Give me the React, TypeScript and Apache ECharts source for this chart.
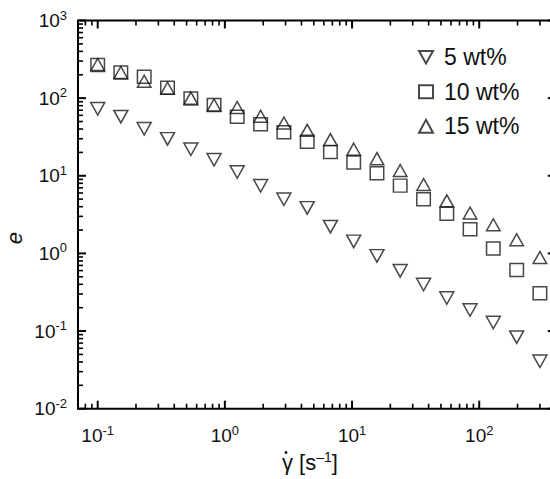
import React, { useEffect, useRef } from "react";
import * as echarts from "echarts";

// Shear rate (1/s) for every measured point
const shearRate = [0.1, 0.152, 0.232, 0.354, 0.54, 0.822, 1.25, 1.91, 2.91, 4.44, 6.76, 10.3, 15.7, 23.9, 36.5, 55.6, 84.7, 129, 197, 300];

// Values of e for each concentration
const wt5 = [72.9, 57.7, 40.4, 29.9, 22.0, 16.1, 11.2, 7.45, 4.98, 3.86, 2.21, 1.43, 0.93, 0.597, 0.398, 0.267, 0.187, 0.129, 0.0834, 0.0409];
const wt10 = [267, 214, 189, 136, 98.9, 81.6, 57.5, 46.0, 36.4, 27.5, 20.2, 14.8, 10.8, 7.47, 4.98, 3.25, 2.05, 1.16, 0.611, 0.306];
const wt15 = [271, 214, 165, 134, 100, 81.6, 75.7, 58.5, 47.9, 38.5, 29.2, 22.0, 16.6, 11.7, 7.72, 4.76, 3.32, 2.34, 1.5, 0.885];

const seriesNames = ["5 wt%", "10 wt%", "15 wt%"];

// Axis extents
const X_MIN = 0.07;
const X_MAX = 400;
const Y_MIN = 0.01;
const Y_MAX = 1000;

// Decade positions and the 2..9 sub-divisions used for tick marks
const xDecades = [0.01, 0.1, 1, 10, 100];
const yDecades = [0.01, 0.1, 1, 10, 100, 1000];
const subSteps = [2, 3, 4, 5, 6, 7, 8, 9];

const inRange = (v: number, lo: number, hi: number) => v >= lo * 0.9999 && v <= hi * 1.0001;
const majorX = xDecades.filter((v) => inRange(v, X_MIN, X_MAX));
const majorY = yDecades.filter((v) => inRange(v, Y_MIN, Y_MAX));
const minorX = xDecades
  .flatMap((d) => subSteps.map((s) => +(d * s).toPrecision(3)))
  .filter((v) => inRange(v, X_MIN, X_MAX) && v > X_MIN);
const minorY = yDecades
  .flatMap((d) => subSteps.map((s) => +(d * s).toPrecision(3)))
  .filter((v) => inRange(v, Y_MIN, Y_MAX));

const FONT = "'Liberation Sans', Arial, sans-serif";
const INK = "#111";

const pairs = (ys: number[]) => shearRate.map((x, i) => [x, ys[i]]);

const powerLabel = (v: number) => {
  const e = Math.round(Math.log10(v));
  return `{b|10}{s|${e}}`;
};

const labelRich = {
  b: { fontSize: 19, fontFamily: FONT, color: INK },
  s: { fontSize: 13, fontFamily: FONT, color: INK, padding: [0, 0, 11, 0] },
};

const hiddenAxisParts = {
  type: "log" as const,
  logBase: 10,
  axisLine: { show: false },
  axisTick: { show: false },
  minorTick: { show: false },
  splitLine: { show: false },
  minorSplitLine: { show: false },
};

type Side = "bottom" | "top" | "left" | "right";

// Tick marks pointing into the plot, placed through the axes' own scales
const tickSeries = (values: number[], side: Side, len: number, width: number) => ({
  type: "custom",
  silent: true,
  clip: false,
  z: 10,
  data: values.map((v) =>
    side === "bottom" ? [v, Y_MIN] : side === "top" ? [v, Y_MAX] : side === "left" ? [X_MIN, v] : [X_MAX, v]
  ),
  renderItem: (_params: any, api: any) => {
    const p = api.coord([api.value(0), api.value(1)]);
    const dir: Record<Side, [number, number]> = {
      bottom: [0, -len],
      top: [0, len],
      left: [len, 0],
      right: [-len, 0],
    };
    const d = dir[side];
    return {
      type: "line",
      shape: { x1: p[0], y1: p[1], x2: p[0] + d[0], y2: p[1] + d[1] },
      style: { stroke: "#000", lineWidth: width },
    };
  },
});

const markerStyle = {
  color: "transparent",
  borderColor: "#1a1a1a",
  borderWidth: 1.5,
};

export default function App() {
  const ref = useRef<HTMLDivElement>(null);

  useEffect(() => {
    if (!ref.current) return;
    const chart = echarts.init(ref.current, undefined, { renderer: "svg" });
    chart.setOption({
      animation: false,
      backgroundColor: "#fff",
      grid: {
        left: 78,
        right: 14.2,
        top: 20.5,
        bottom: 70.3,
        containLabel: false,
        show: true,
        borderColor: "#000",
        borderWidth: 2,
        backgroundColor: "transparent",
      },
      legend: {
        orient: "vertical",
        left: 418,
        top: 45.8,
        padding: 0,
        itemGap: 11.5,
        itemWidth: 14,
        itemHeight: 13,
        data: [
          { name: seriesNames[0], icon: "path://M0,0L14,0L7,12.5Z" },
          { name: seriesNames[1] },
          { name: seriesNames[2] },
        ],
        textStyle: { fontSize: 23, lineHeight: 23, fontFamily: FONT, color: INK, padding: [0, 0, 0, 6] },
      },
      graphic: [
        {
          type: "text",
          x: 14,
          y: 238,
          rotation: Math.PI / 2,
          style: {
            text: "e",
            fill: INK,
            font: `italic 22px ${FONT}`,
            textAlign: "center",
            textVerticalAlign: "middle",
          },
        },
        // overdot of the shear-rate symbol
        {
          type: "circle",
          shape: { cx: 286, cy: 452.5, r: 1.4 },
          style: { fill: INK },
        },
      ],
      xAxis: [
        {
          ...hiddenAxisParts,
          min: X_MIN,
          max: X_MAX,
          position: "bottom",
          axisLabel: {
            show: true,
            margin: 15,
            showMinLabel: false,
            showMaxLabel: false,
            formatter: powerLabel,
            rich: labelRich,
          },
          name: "{g|γ [s}{s|–1}{g|]}",
          nameLocation: "middle",
          nameGap: 40,
          nameTextStyle: {
            padding: [0, 14, 0, 0],
            rich: {
              g: { fontSize: 22, fontFamily: FONT, color: INK },
              s: { fontSize: 14, fontFamily: FONT, color: INK, padding: [0, 0, 11, 0] },
            },
          },
        },
        {
          ...hiddenAxisParts,
          min: X_MIN,
          max: X_MAX,
          position: "top",
          axisLabel: { show: false },
        },
      ],
      yAxis: [
        {
          ...hiddenAxisParts,
          min: Y_MIN,
          max: Y_MAX,
          position: "left",
          axisLabel: {
            show: true,
            margin: 11,
            formatter: powerLabel,
            rich: labelRich,
          },
        },
        {
          ...hiddenAxisParts,
          min: Y_MIN,
          max: Y_MAX,
          position: "right",
          axisLabel: { show: false },
        },
      ],
      series: [
        {
          name: seriesNames[0],
          type: "scatter",
          data: pairs(wt5),
          symbol: "triangle",
          symbolRotate: 180,
          symbolSize: [14, 12.5],
          itemStyle: markerStyle,
        },
        {
          name: seriesNames[1],
          type: "scatter",
          data: pairs(wt10),
          symbol: "rect",
          symbolSize: [13.5, 13],
          itemStyle: markerStyle,
        },
        {
          name: seriesNames[2],
          type: "scatter",
          data: pairs(wt15),
          symbol: "triangle",
          symbolSize: [13.5, 12],
          itemStyle: markerStyle,
        },
        tickSeries(majorX, "bottom", 8, 2),
        tickSeries(minorX, "bottom", 5, 1.6),
        tickSeries(majorX, "top", 8, 2),
        tickSeries(minorX, "top", 5, 1.6),
        tickSeries(majorY, "left", 8, 2),
        tickSeries(minorY, "left", 5, 1.6),
        tickSeries(majorY, "right", 8, 2),
        tickSeries(minorY, "right", 5, 1.6),
      ],
    });
    return () => chart.dispose();
  }, []);

  return (
    <div
      style={{
        position: "fixed",
        left: 0,
        top: 0,
        width: 550,
        height: 479,
        overflow: "hidden",
        background: "#fff",
      }}
    >
      <div ref={ref} style={{ width: 570, height: 479 }} />
    </div>
  );
}
